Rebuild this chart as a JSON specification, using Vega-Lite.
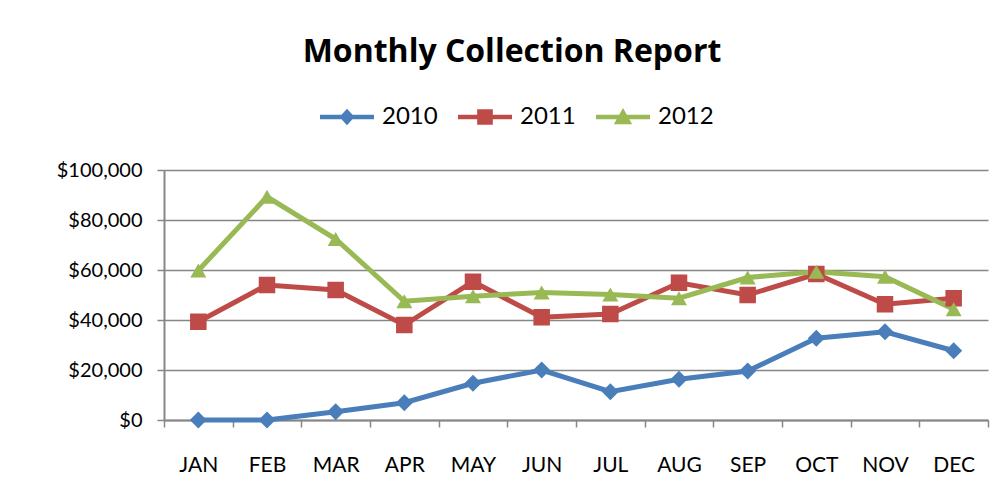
{
  "$schema": "https://vega.github.io/schema/vega-lite/v6.json",
  "width": 824,
  "height": 250,
  "autosize": {"type": "none"},
  "padding": {"left": 164, "top": 170, "right": 17, "bottom": 81},
  "background": "white",
  "title": {
    "text": "Monthly Collection Report",
    "font": "Open Sans",
    "fontSize": 32,
    "fontWeight": "bold",
    "color": "black",
    "anchor": "middle",
    "frame": "group",
    "dx": -64,
    "dy": 32,
    "baseline": "alphabetic",
    "offset": 28
  },
  "config": {
    "view": {"stroke": null},
    "font": "Lato"
  },
  "data": {
    "values": [
      {"month": "JAN", "year": "2010", "value": 0},
      {"month": "FEB", "year": "2010", "value": 0},
      {"month": "MAR", "year": "2010", "value": 3300},
      {"month": "APR", "year": "2010", "value": 6900},
      {"month": "MAY", "year": "2010", "value": 14700},
      {"month": "JUN", "year": "2010", "value": 20000},
      {"month": "JUL", "year": "2010", "value": 11300},
      {"month": "AUG", "year": "2010", "value": 16300},
      {"month": "SEP", "year": "2010", "value": 19600},
      {"month": "OCT", "year": "2010", "value": 32700},
      {"month": "NOV", "year": "2010", "value": 35300},
      {"month": "DEC", "year": "2010", "value": 27700},
      {"month": "JAN", "year": "2011", "value": 39300},
      {"month": "FEB", "year": "2011", "value": 54000},
      {"month": "MAR", "year": "2011", "value": 52000},
      {"month": "APR", "year": "2011", "value": 38000},
      {"month": "MAY", "year": "2011", "value": 55300},
      {"month": "JUN", "year": "2011", "value": 41100},
      {"month": "JUL", "year": "2011", "value": 42400},
      {"month": "AUG", "year": "2011", "value": 54900},
      {"month": "SEP", "year": "2011", "value": 50000},
      {"month": "OCT", "year": "2011", "value": 58400},
      {"month": "NOV", "year": "2011", "value": 46300},
      {"month": "DEC", "year": "2011", "value": 48700},
      {"month": "JAN", "year": "2012", "value": 59800},
      {"month": "FEB", "year": "2012", "value": 89300},
      {"month": "MAR", "year": "2012", "value": 72400},
      {"month": "APR", "year": "2012", "value": 47500},
      {"month": "MAY", "year": "2012", "value": 49500},
      {"month": "JUN", "year": "2012", "value": 51000},
      {"month": "JUL", "year": "2012", "value": 50200},
      {"month": "AUG", "year": "2012", "value": 48700},
      {"month": "SEP", "year": "2012", "value": 57000},
      {"month": "OCT", "year": "2012", "value": 59300},
      {"month": "NOV", "year": "2012", "value": 57300},
      {"month": "DEC", "year": "2012", "value": 44300}
    ]
  },
  "encoding": {
    "x": {
      "field": "month",
      "type": "ordinal",
      "sort": ["JAN","FEB","MAR","APR","MAY","JUN","JUL","AUG","SEP","OCT","NOV","DEC"],
      "scale": {"type": "band", "paddingInner": 0, "paddingOuter": 0},
      "axis": {
        "title": null,
        "labelAngle": 0,
        "labelFont": "Lato",
        "labelFontSize": 21,
        "labelColor": "black",
        "labelPadding": 27,
        "tickBand": "extent",
        "ticks": true,
        "tickSize": 7,
        "tickColor": "#868686",
        "tickWidth": 1.5,
        "domainColor": "#868686",
        "domainWidth": 2,
        "grid": false
      }
    },
    "y": {
      "field": "value",
      "type": "quantitative",
      "scale": {"domain": [0, 100000], "nice": false},
      "axis": {
        "title": null,
        "values": [0, 20000, 40000, 60000, 80000, 100000],
        "format": "$,.0f",
        "labelFont": "Lato",
        "labelFontSize": 20,
        "labelColor": "black",
        "labelPadding": 15,
        "tickSize": 7,
        "tickColor": "#868686",
        "tickWidth": 1.5,
        "domainColor": "#868686",
        "domainWidth": 2,
        "grid": true,
        "gridColor": "#868686",
        "gridWidth": 1.5
      }
    }
  },
  "layer": [
    {
      "mark": {"type": "line", "strokeWidth": 5},
      "encoding": {
        "color": {
          "field": "year",
          "type": "nominal",
          "scale": {"domain": ["2010","2011","2012"], "range": ["#4A7EBB","#BE4B48","#98B954"]},
          "legend": null
        }
      }
    },
    {
      "mark": {"type": "point", "filled": true, "opacity": 1, "strokeWidth": 0},
      "encoding": {
        "color": {"field": "year", "type": "nominal", "legend": null},
        "shape": {
          "field": "year",
          "type": "nominal",
          "scale": {"domain": ["2010","2011","2012"], "range": ["diamond","square","triangle-up"]},
          "legend": null
        },
        "size": {
          "field": "year",
          "type": "nominal",
          "scale": {"domain": ["2010","2011","2012"], "range": [290, 256, 440]},
          "legend": null
        }
      }
    },
    {
      "mark": {"type": "point", "filled": true, "size": 0, "strokeWidth": 0},
      "encoding": {
        "shape": {
          "field": "year",
          "type": "nominal",
          "scale": {
            "domain": ["2010","2011","2012"],
            "range": [
              "M-1,-0.085H1V0.085H-1Z M0,-0.31L0.28,0L0,0.31L-0.28,0Z",
              "M-1,-0.085H1V0.085H-1Z M-0.29,-0.29H0.29V0.29H-0.29Z",
              "M-1,-0.085H1V0.085H-1Z M0,-0.33L0.34,0.27L-0.34,0.27Z"
            ]
          },
          "legend": {
            "orient": "none",
            "legendX": 156,
            "legendY": -80,
            "direction": "horizontal",
            "title": null,
            "symbolSize": 2916,
            "symbolStrokeWidth": 0,
            "symbolOpacity": 1,
            "labelFont": "Lato",
            "labelFontSize": 24,
            "labelColor": "black",
            "labelOffset": 8,
            "columnPadding": 20,
            "encoding": {
              "symbols": {
                "fill": {
                  "condition": [
                    {"test": "datum.value === '2011'", "value": "#BE4B48"},
                    {"test": "datum.value === '2012'", "value": "#98B954"}
                  ],
                  "value": "#4A7EBB"
                },
                "opacity": {"value": 1}
              }
            }
          }
        }
      }
    }
  ],
  "resolve": {"scale": {"shape": "independent", "size": "independent"}}
}
